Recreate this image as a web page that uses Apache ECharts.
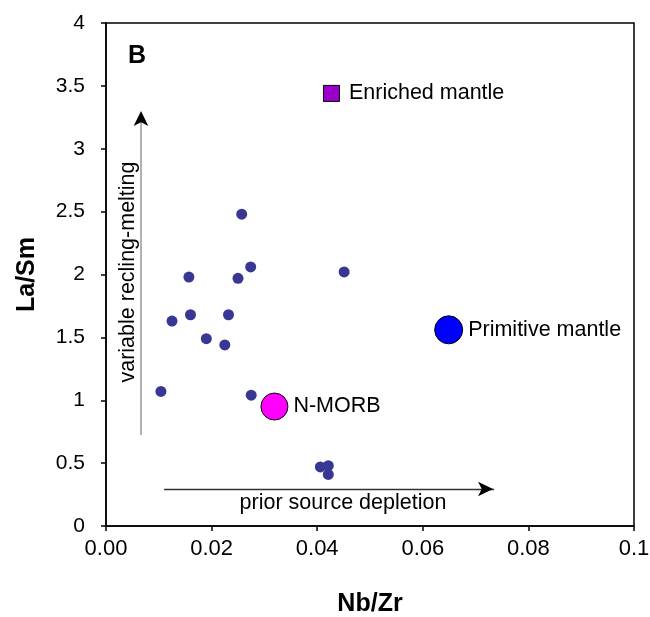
<!DOCTYPE html>
<html><head><meta charset="utf-8">
<script src="https://cdn.jsdelivr.net/npm/echarts@6/dist/echarts.min.js"></script>
<style>html,body{margin:0;padding:0;background:#fff}#c{width:650px;height:617px}</style>
</head><body><div id="c"></div>
<script>
// Sample points (Nb/Zr, La/Sm)
const sampleNbZr = [0.0257, 0.0274, 0.0157, 0.0250, 0.0451, 0.0160, 0.0232, 0.0125, 0.0190, 0.0225, 0.0104, 0.0275, 0.0406, 0.0421, 0.0421];
const sampleLaSm = [2.48, 2.06, 1.98, 1.97, 2.02, 1.68, 1.68, 1.63, 1.49, 1.44, 1.07, 1.04, 0.47, 0.48, 0.41];
// Reference reservoirs
const refNames = ["N-MORB", "Primitive mantle", "Enriched mantle"];
const refNbZr = [0.0319, 0.0649, 0.0427];
const refLaSm = [0.95, 1.56, 3.44];
// Axis ticks
const xTicks = [0, 0.02, 0.04, 0.06, 0.08, 0.1];
const yTicks = [0, 0.5, 1, 1.5, 2, 2.5, 3, 3.5, 4];

const font = "'Liberation Sans', Arial, sans-serif";
const chart = echarts.init(document.getElementById('c'));
const samples = sampleNbZr.map((x, i) => [x, sampleLaSm[i]]);
const refStyle = [
  {color: '#ff00ff', symbol: 'circle', size: 27, dist: 5},
  {color: '#0000ff', symbol: 'circle', size: 28, dist: 5},
  {color: '#9900cc', symbol: 'rect', size: 16, dist: 9}
];
const refSeries = refNames.map((n, i) => ({
  type: 'scatter', name: n,
  data: [[refNbZr[i], refLaSm[i]]],
  symbol: refStyle[i].symbol, symbolSize: refStyle[i].size,
  itemStyle: {color: refStyle[i].color, borderColor: '#000', borderWidth: 1, opacity: 1},
  label: {show: true, position: 'right', distance: refStyle[i].dist, formatter: n,
          fontFamily: font, fontSize: 21.5, color: '#000'},
  z: 3
}));

chart.setOption({
  animation: false,
  grid: {left: 106, right: 16, top: 23, bottom: 91, show: true, borderColor: '#000', borderWidth: 1.5,
         containLabel: false, outerBoundsMode: 'none'},
  xAxis: {
    type: 'value', min: xTicks[0], max: xTicks[xTicks.length - 1], interval: 0.02,
    name: 'Nb/Zr', nameLocation: 'middle', nameGap: 66,
    nameTextStyle: {fontFamily: font, fontSize: 25, fontWeight: 'bold', color: '#000'},
    axisLine: {lineStyle: {color: '#000', width: 1.5}},
    axisTick: {show: true, length: 5, lineStyle: {color: '#000', width: 1.5}},
    splitLine: {show: false},
    axisLabel: {fontFamily: font, fontSize: 22, color: '#000', margin: 12,
      formatter: v => (Math.abs(v - 0.1) < 1e-9 ? '0.1' : v.toFixed(2))}
  },
  yAxis: {
    type: 'value', min: yTicks[0], max: yTicks[yTicks.length - 1], interval: 0.5,
    name: 'La/Sm', nameLocation: 'middle', nameGap: 66, nameRotate: 90,
    nameTextStyle: {fontFamily: font, fontSize: 25, fontWeight: 'bold', color: '#000'},
    axisLine: {lineStyle: {color: '#000', width: 1.5}},
    axisTick: {show: true, length: 5, lineStyle: {color: '#000', width: 1.5}},
    splitLine: {show: false},
    axisLabel: {fontFamily: font, fontSize: 21, color: '#000', margin: 21}
  },
  series: [
    {
      type: 'scatter', name: 'samples', data: samples,
      symbolSize: 11, itemStyle: {color: '#383894', opacity: 1}, z: 2,
      markLine: {
        silent: true, symbol: ['none', 'none'],
        label: {show: false},
        data: [
          [{coord: [0.011, 0.294], lineStyle: {color: '#333', width: 1.3, type: 'solid'}},
           {coord: [0.0735, 0.294]}],
          [{coord: [0.00663, 0.723], lineStyle: {color: '#999', width: 1.5, type: 'solid'}},
           {coord: [0.00663, 3.28]}]
        ]
      },
      markPoint: {
        silent: true, symbol: 'arrow', symbolSize: [11, 15],
        label: {show: false},
        itemStyle: {color: '#000'},
        data: [
          {coord: [0.0733, 0.294], symbolRotate: -90},
          {coord: [0.00663, 3.30], symbolRotate: 0}
        ]
      }
    },
    ...refSeries
  ],
  graphic: [
    {type: 'text', left: 128, top: 44, style: {text: 'B', font: 'bold 25px ' + font, fill: '#000'}},
    {type: 'text', x: 343, y: 503, style: {text: 'prior source depletion', font: '21.5px ' + font, fill: '#000', align: 'center', verticalAlign: 'middle'}},
    {type: 'text', x: 128, y: 272, rotation: Math.PI / 2, style: {text: 'variable recling-melting', font: '21.5px ' + font, fill: '#000', align: 'center', verticalAlign: 'middle'}}
  ]
});
</script></body></html>
